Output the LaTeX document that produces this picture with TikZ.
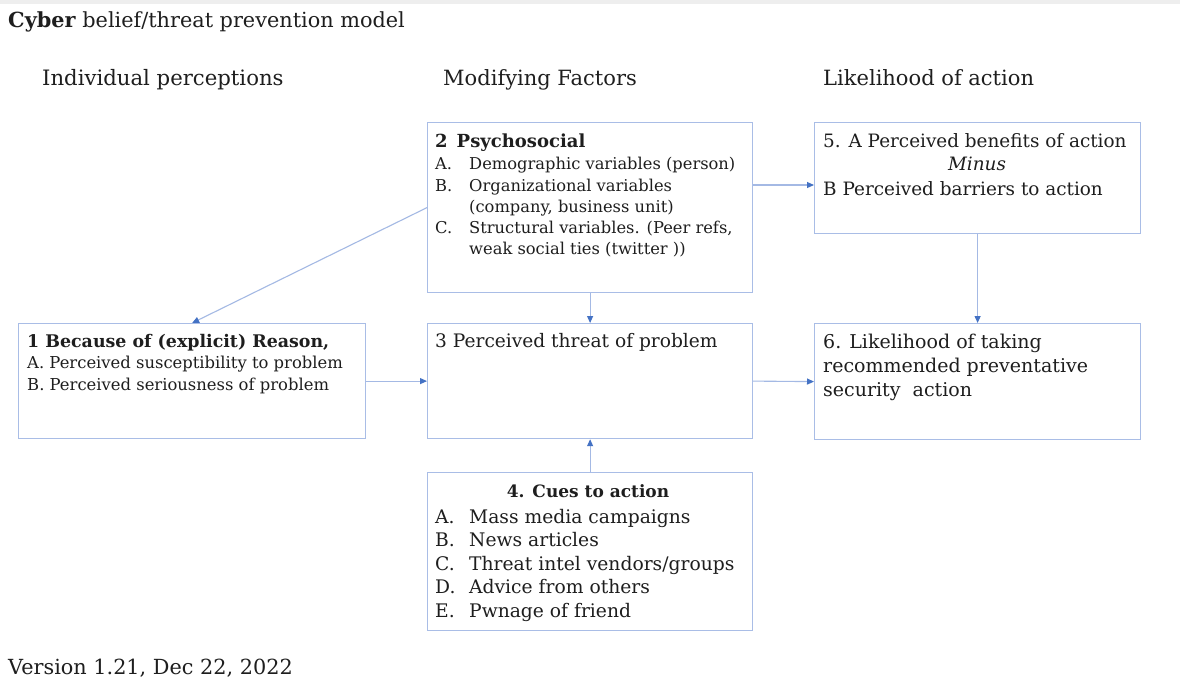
\documentclass[tikz,border=0pt]{standalone}
\usepackage{fontspec}
\setmainfont{DejaVu Serif}
\usetikzlibrary{arrows.meta}
\definecolor{boxline}{HTML}{A9BDE6}
\definecolor{linkline}{HTML}{A4B9E4}
\definecolor{tipblue}{HTML}{4472C4}
\definecolor{inktext}{HTML}{1E1E1E}
\definecolor{topbar}{HTML}{EEEEEE}
\newcommand{\fsz}[1]{\fontsize{#1pt}{#1pt}\selectfont}
\newcommand{\itemlbl}[1]{\makebox[34pt][l]{#1}}
\begin{document}
\begin{tikzpicture}[x=1pt,y=-1pt,
  box/.style={draw=boxline, line width=1.2pt, inner sep=0pt, anchor=north west},
  link/.style={draw=linkline, line width=1.1pt, -{Triangle[length=7pt,width=6pt,color=tipblue]}},
  txt/.style={anchor=base west, inner sep=0pt, text=inktext},
  ctxt/.style={anchor=base, inner sep=0pt, text=inktext}]
  % page frame
  \useasboundingbox (0,0) rectangle (1180,681);
  \fill[white] (0,0) rectangle (1180,681);
  \fill[topbar] (0,0) rectangle (1180,3.5);

  % title, column heads and footer
  \node[txt, font=\fsz{20.8}] (title) at (8,27) {\textbf{Cyber} belief/threat prevention model};
  \node[txt, font=\fsz{21.2}] (h1) at (42,85) {Individual perceptions};
  \node[txt, font=\fsz{21}] (h2) at (443,85) {Modifying Factors};
  \node[txt, font=\fsz{21}] (h3) at (823,85) {Likelihood of action};
  \node[txt, font=\fsz{20.8}] (ver) at (8,674) {Version 1.21, Dec 22, 2022};

  % boxes
  \node[box, minimum width=325pt, minimum height=170pt] (b2) at (427,122) {};
  \node[box, minimum width=326pt, minimum height=111pt] (b5) at (814,122) {};
  \node[box, minimum width=347pt, minimum height=115pt] (b1) at (18,323) {};
  \node[box, minimum width=325pt, minimum height=115pt] (b3) at (427,323) {};
  \node[box, minimum width=326pt, minimum height=116pt] (b6) at (814,323) {};
  \node[box, minimum width=325pt, minimum height=158pt] (b4) at (427,472) {};

  % box 2
  \begin{scope}[every node/.append style={font=\fsz{16.3}}]
    \node[txt, font=\fsz{18}] (t2a) at (435,147) {\textbf{2\enspace Psychosocial}};
    \node[txt] (t2b) at (435,169) {\itemlbl{A.}Demographic variables (person)};
    \node[txt] (t2c) at (435,191) {\itemlbl{B.}Organizational variables};
    \node[txt] (t2d) at (469,212) {(company, business unit)};
    \node[txt] (t2e) at (435,233) {\itemlbl{C.}Structural variables. (Peer refs,};
    \node[txt] (t2f) at (469,254) {weak social ties (twitter ))};
  \end{scope}

  % box 5
  \begin{scope}[every node/.append style={font=\fsz{18.4}}]
    \node[txt] (t5a) at (823,147) {5. A Perceived benefits of action};
    \node[ctxt] (t5b) at (977,170) {\itshape Minus};
    \node[txt] (t5c) at (823,195) {B Perceived barriers to action};
  \end{scope}

  % box 1
  \begin{scope}[every node/.append style={font=\fsz{16.4}}]
    \node[txt, font=\fsz{17.4}] (t1a) at (27,347) {\textbf{1 Because of (explicit) Reason,}};
    \node[txt] (t1b) at (27,368) {A. Perceived susceptibility to problem};
    \node[txt] (t1c) at (27,390) {B. Perceived seriousness of problem};
  \end{scope}

  % box 3
  \node[txt, font=\fsz{18.6}] (t3) at (435,347) {3 Perceived threat of problem};

  % box 6
  \begin{scope}[every node/.append style={font=\fsz{19}}]
    \node[txt] (t6a) at (823,348) {6. Likelihood of taking};
    \node[txt] (t6b) at (823,372) {recommended preventative};
    \node[txt] (t6c) at (823,396) {security\ \ action};
  \end{scope}

  % box 4
  \begin{scope}[every node/.append style={font=\fsz{18.7}}]
    \node[ctxt, font=\fsz{17}] (t4a) at (588,497) {\textbf{4. Cues to action}};
    \node[txt] (t4b) at (435,523) {\itemlbl{A.}Mass media campaigns};
    \node[txt] (t4c) at (435,546) {\itemlbl{B.}News articles};
    \node[txt] (t4d) at (435,570) {\itemlbl{C.}Threat intel vendors/groups};
    \node[txt] (t4e) at (435,593) {\itemlbl{D.}Advice from others};
    \node[txt] (t4f) at (435,617) {\itemlbl{E.}Pwnage of friend};
  \end{scope}

  % connectors
  \draw[link] (b2.west) -- (b1.north);
  \draw[link] (b2.south) -- (b3.north);
  \draw[link] ([yshift=-63pt]b2.north east) -- ([yshift=-63pt]b5.north west);
  \draw[link] (b5.south) -- (b6.north);
  \draw[link] (b1.east) -- (b3.west);
  \draw[link] (b3.east) -- (b6.west);
  \draw[link] (b4.north) -- (b3.south);
\end{tikzpicture}
\end{document}
